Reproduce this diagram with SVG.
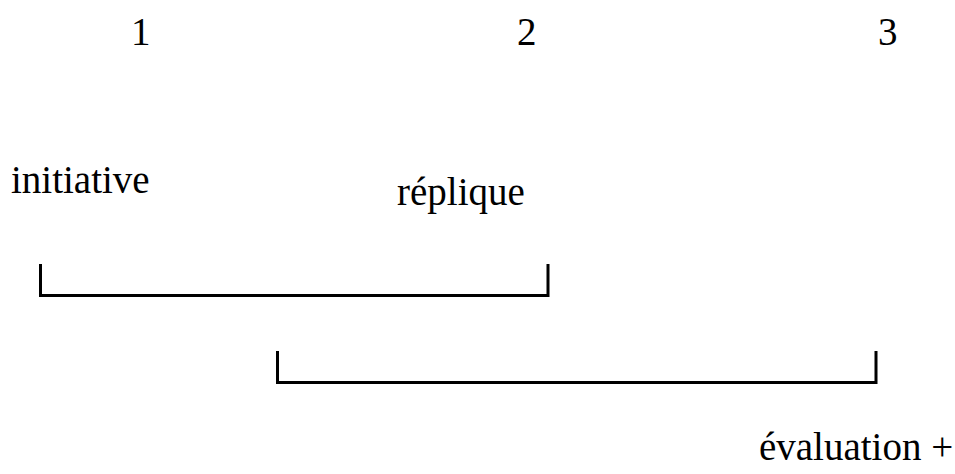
<svg xmlns="http://www.w3.org/2000/svg" width="955" height="474" viewBox="0 0 955 474">
<style>
text{font-family:"Liberation Serif","Times New Roman",serif;font-size:39px;fill:#000}
.br{fill:none;stroke:#000;stroke-width:3}
</style>
<rect width="955" height="474" fill="#fff"/>
<g id="n1"><text x="131" y="45">1</text></g>
<g id="n2"><text x="517" y="45">2</text></g>
<g id="n3"><text x="878" y="45">3</text></g>
<g id="initiative"><text x="11" y="193">initiative</text></g>
<g id="replique"><text x="397" y="205">réplique</text></g>
<g id="evaluation"><text x="759" y="460">évaluation +</text></g>
<g id="connectors">
<path class="br" d="M40.5,264 V295.5 H548 V264"/>
<path class="br" d="M277.5,351 V382.5 H876 V351"/>
</g>
</svg>
